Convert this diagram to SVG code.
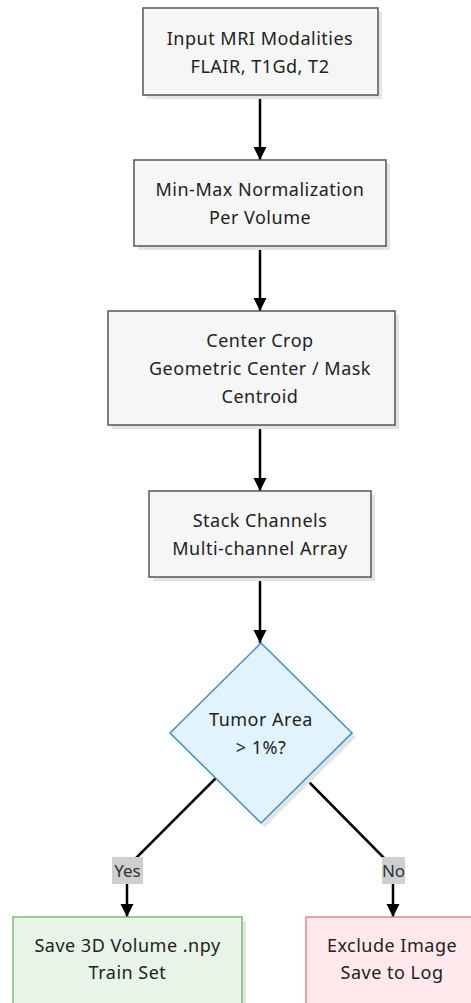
<svg xmlns="http://www.w3.org/2000/svg" width="471" height="1003" viewBox="0 0 471 1003">
<defs>
<marker id="ah" viewBox="0 0 10 10" refX="10" refY="5" markerWidth="5.4" markerHeight="5.4" orient="auto" markerUnits="strokeWidth">
<path d="M0,0 L10,5 L0,10 Z" fill="#000"/>
</marker>
</defs>
<style>
text{font-family:"Noto Sans","Open Sans",sans-serif;font-size:18px;letter-spacing:0.5px;fill:#222;text-anchor:middle;dominant-baseline:central}
.box{fill:#f6f6f6;stroke:#555;stroke-width:1.5}
.sh{fill:#e4e4e4}
.edge{fill:none;stroke:#000;stroke-width:2.5;marker-end:url(#ah)}
.lbl{fill:#cfcfcf}
.lt{font-size:17px;letter-spacing:0;fill:#333}
</style>
<rect width="471" height="1003" fill="#fff"/>
<g id="connectors">
<path class="edge" d="M260,95 V160"/>
<path class="edge" d="M260,246 V311"/>
<path class="edge" d="M260,425 V491"/>
<path class="edge" d="M260,577 V643"/>
<path class="edge" d="M216,778 L127,867 V917"/>
<path class="edge" d="M305,778 L393,867 V917"/>
<rect class="lbl" x="112" y="857" width="31" height="27"/>
<text class="lt" x="127.5" y="870.5">Yes</text>
<rect class="lbl" x="382" y="857" width="23" height="27"/>
<text class="lt" x="393.5" y="870.5">No</text>
</g>
<g id="input">
<rect class="sh" x="147" y="12" width="235" height="87"/>
<rect class="box" x="143" y="8" width="235" height="87"/>
<text x="260" y="38">Input MRI Modalities</text>
<text x="260" y="66">FLAIR, T1Gd, T2</text>
</g>
<g id="norm">
<rect class="sh" x="138" y="164" width="252" height="86"/>
<rect class="box" x="134" y="160" width="252" height="86"/>
<text x="260" y="189">Min-Max Normalization</text>
<text x="260" y="217">Per Volume</text>
</g>
<g id="crop">
<rect class="sh" x="112" y="315" width="287" height="114"/>
<rect class="box" x="108" y="311" width="287" height="114"/>
<text x="260" y="340">Center Crop</text>
<text x="260" y="368">Geometric Center / Mask</text>
<text x="260" y="396">Centroid</text>
</g>
<g id="stack">
<rect class="sh" x="153" y="495" width="222" height="86"/>
<rect class="box" x="149" y="491" width="222" height="86"/>
<text x="260" y="520">Stack Channels</text>
<text x="260" y="548">Multi-channel Array</text>
</g>
<g id="decision">
<path d="M265,647 L356,737 L265,827 L174,737 Z" fill="#e4e4e4"/>
<path d="M261,643 L352,733 L261,823 L170,733 Z" fill="#e1f4fd" stroke="#3a8fd0" stroke-width="1.5"/>
<text x="261" y="719">Tumor Area</text>
<text x="261" y="747">&gt; 1%?</text>
</g>
<g id="save">
<rect x="17" y="921" width="229" height="90" fill="#e4e4e4"/>
<rect x="13" y="917" width="229" height="90" fill="#e7f4e7" stroke="#7fb87f" stroke-width="1.5"/>
<text x="127.5" y="945">Save 3D Volume .npy</text>
<text x="127.5" y="972">Train Set</text>
</g>
<g id="exclude">
<rect x="306" y="917" width="175" height="90" fill="#ffe9ec" stroke="#e08a8a" stroke-width="1.5"/>
<text x="392" y="945">Exclude Image</text>
<text x="392" y="972">Save to Log</text>
</g>
</svg>
